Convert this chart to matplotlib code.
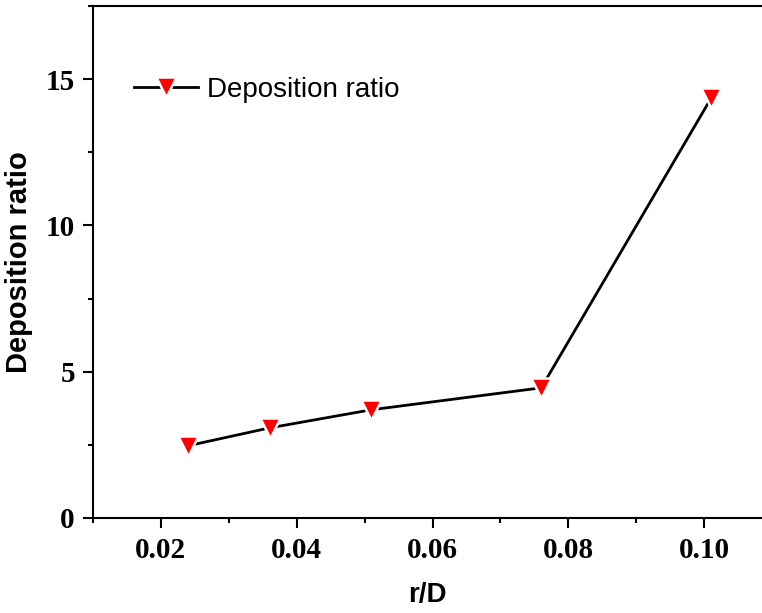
import matplotlib
matplotlib.use("Agg")
import matplotlib.pyplot as plt
import matplotlib.ticker as mticker

# ── Data ─────────────────────────────────────────────────────────────────────
r_over_D   = [0.024, 0.036, 0.051, 0.076, 0.101]
dep_ratio  = [2.47, 3.08, 3.70, 4.45, 14.35]

SERIF = ["Liberation Serif", "DejaVu Serif"]
SANS  = ["Liberation Sans", "DejaVu Sans"]

# tick labels: bold serif
plt.rcParams["font.family"] = SERIF
plt.rcParams["font.weight"] = "bold"

fig = plt.figure(figsize=(7.62, 6.13), dpi=100)
ax = fig.add_axes([0.122, 0.155, 0.878, 0.835])

ax.plot(r_over_D, dep_ratio, color="black", lw=2,
        marker="v", ms=15, mfc="red", mec="white", mew=1.8,
        label="Deposition ratio")

ax.set_xlim(0.01, 0.1085)
ax.set_ylim(0, 17.5)
ax.xaxis.set_major_locator(mticker.MultipleLocator(0.02))
ax.xaxis.set_minor_locator(mticker.MultipleLocator(0.01))
ax.yaxis.set_major_locator(mticker.MultipleLocator(5))
ax.yaxis.set_minor_locator(mticker.MultipleLocator(2.5))
ax.xaxis.set_major_formatter(mticker.FuncFormatter(lambda v, _: f"{v:.2f}"))
ax.yaxis.set_major_formatter(mticker.FuncFormatter(lambda v, _: f"{v:.0f}"))

for s in ("left", "bottom", "top"):
    ax.spines[s].set_linewidth(1.5)
ax.spines["right"].set_visible(False)

ax.tick_params(which="major", direction="out", length=7, width=1.5, labelsize=21)
ax.tick_params(which="minor", direction="out", length=3.5, width=1.5)
ax.tick_params(axis="x", which="major", pad=7)
ax.tick_params(axis="y", which="major", pad=6)

ax.set_xlabel("r/D", family=SANS, fontweight="bold", fontsize=20, labelpad=13)
ax.set_ylabel("Deposition ratio", family=SANS, fontweight="bold", fontsize=21, labelpad=9)

leg = ax.legend(loc="center left", bbox_to_anchor=(0.061, 0.836), frameon=False,
                numpoints=1, handlelength=2.3, handletextpad=0.35,
                borderpad=0, borderaxespad=0,
                prop={"family": SANS, "size": 20, "weight": "normal"})

fig.savefig("out.png", dpi=100)
